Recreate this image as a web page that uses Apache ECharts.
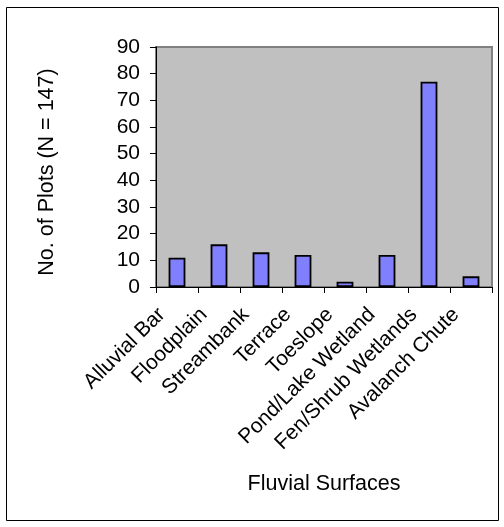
<!DOCTYPE html>
<html>
<head>
<meta charset="utf-8">
<script src="https://cdn.jsdelivr.net/npm/echarts@6/dist/echarts.min.js"></script>
<style>
html,body{margin:0;padding:0;background:#fff;}
#chart{width:504px;height:527px;}
</style>
</head>
<body>
<div id="chart"></div>
<script>
var categories = ["Alluvial Bar","Floodplain","Streambank","Terrace","Toeslope","Pond/Lake Wetland","Fen/Shrub Wetlands","Avalanch Chute"];
var plotCounts = [11, 16, 13, 12, 2, 12, 77, 4];
var yTicks = {min: 0, max: 90, interval: 10};

var chart = echarts.init(document.getElementById('chart'), null, {renderer: 'canvas'});
var FONT = 'Liberation Sans, Arial, sans-serif';
chart.setOption({
  animation: false,
  backgroundColor: '#ffffff',
  graphic: [{
    type: 'rect',
    shape: {x: 6.5, y: 7.5, width: 492, height: 513},
    style: {fill: 'none', stroke: '#000000', lineWidth: 1},
    z: -1
  }],
  grid: {
    left: 156, right: 12, top: 47, bottom: 240,
    show: true, backgroundColor: '#C0C0C0', borderColor: '#808080', borderWidth: 2
  },
  xAxis: {
    type: 'category',
    data: categories,
    name: 'Fluvial Surfaces',
    nameLocation: 'middle',
    nameGap: 186,
    nameTextStyle: {fontFamily: FONT, fontSize: 21.5, color: '#000'},
    axisLine: {lineStyle: {color: '#000', width: 1}},
    axisTick: {show: true, length: 6, lineStyle: {color: '#000'}},
    axisLabel: {rotate: 45, fontFamily: FONT, fontSize: 21, color: '#000', margin: 24, interval: 0,
                verticalAlign: 'bottom',
                formatter: function (v) { return '{t|' + v + '}{s|}'; },
                rich: {t: {fontFamily: FONT, fontSize: 21, color: '#000'}, s: {width: 11}}}
  },
  yAxis: {
    type: 'value',
    min: yTicks.min, max: yTicks.max, interval: yTicks.interval,
    name: 'No. of Plots (N = 147)',
    nameLocation: 'middle',
    nameGap: 98,
    nameTextStyle: {fontFamily: FONT, fontSize: 21.5, color: '#000', padding: [0, 10, 0, 0]},
    axisLine: {show: true, lineStyle: {color: '#000', width: 1}},
    axisTick: {show: true, length: 6, lineStyle: {color: '#000'}},
    axisLabel: {fontFamily: FONT, fontSize: 21, color: '#000', margin: 16},
    splitLine: {show: false}
  },
  series: [{
    type: 'bar',
    data: plotCounts,
    barWidth: '40%',
    itemStyle: {color: '#8080FF', borderColor: '#000', borderWidth: 1.8}
  }]
});
</script>
</body>
</html>
